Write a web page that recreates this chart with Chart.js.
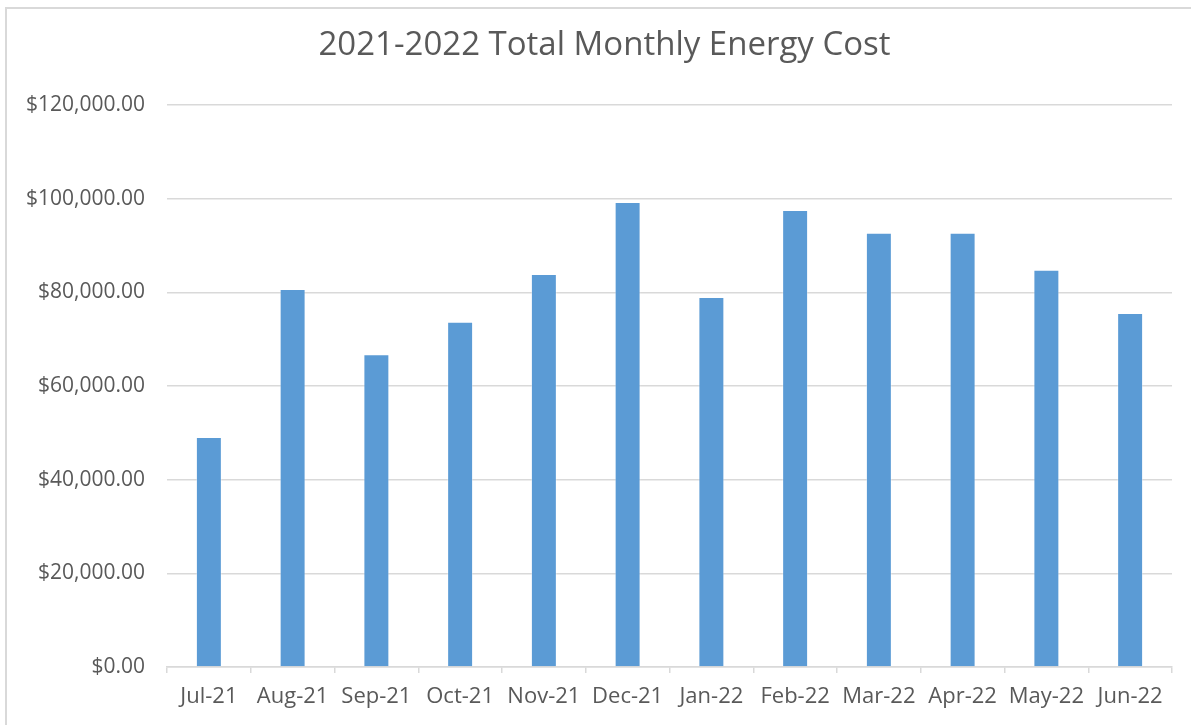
<!DOCTYPE html>
<html>
<head>
<meta charset="utf-8">
<script src="https://cdn.jsdelivr.net/npm/chart.js@4/dist/chart.umd.min.js"></script>
<style>
  html, body { margin: 0; padding: 0; background: #ffffff; }
  #wrap { position: relative; width: 1191px; height: 725px; overflow: hidden; }
  #frame { position: absolute; left: 5px; top: 7px; width: 1200px; height: 730px;
           border-left: 2px solid #d9d9d9; border-top: 2px solid #d9d9d9; box-sizing: border-box; }
  canvas { position: absolute; left: 0; top: 0; }
</style>
</head>
<body>
<div id="wrap">
  <div id="frame"></div>
  <canvas id="c" width="1191" height="725"></canvas>
</div>
<script>
const categories = ['Jul-21','Aug-21','Sep-21','Oct-21','Nov-21','Dec-21','Jan-22','Feb-22','Mar-22','Apr-22','May-22','Jun-22'];
const monthlyCost = [49100, 80700, 66800, 73700, 83900, 99300, 79000, 97600, 92700, 92700, 84800, 75600];
const yTicks = [0, 20000, 40000, 60000, 80000, 100000, 120000];
const chartTitle = '2021-2022 Total Monthly Energy Cost';

const FONT = '"Open Sans", "Liberation Sans", sans-serif';
const TEXT = '#595959';
const GRID = '#d9d9d9';

function money(v) {
  return '$' + Number(v).toLocaleString('en-US', { minimumFractionDigits: 2, maximumFractionDigits: 2 });
}

// centre the title on the outer frame rather than on the plot box
const titleShift = {
  id: 'titleShift',
  afterLayout(chart) {
    if (chart.titleBlock) {
      chart.titleBlock.left = 18;
      chart.titleBlock.right = 1191;
    }
  }
};

new Chart(document.getElementById('c'), {
  type: 'bar',
  data: {
    labels: categories,
    datasets: [{
      label: 'Total Monthly Energy Cost',
      data: monthlyCost,
      backgroundColor: '#5B9BD5',
      borderColor: 'rgba(255,255,255,0.35)',
      borderWidth: 1,
      barPercentage: 0.31,
      categoryPercentage: 1.0
    }]
  },
  plugins: [titleShift],
  options: {
    responsive: false,
    animation: false,
    devicePixelRatio: 1,
    layout: { padding: { left: 0, right: 19, top: 0, bottom: 0 } },
    plugins: {
      legend: { display: false },
      tooltip: { enabled: false },
      title: {
        display: true,
        text: chartTitle,
        color: TEXT,
        font: { family: FONT, size: 33, weight: 'normal' },
        padding: { top: 26, bottom: 39.4 }
      }
    },
    scales: {
      x: {
        offset: true,
        grid: {
          offset: true,
          drawOnChartArea: false,
          drawTicks: true,
          tickLength: 6,
          color: GRID,
          lineWidth: 1.5
        },
        border: { display: true, color: GRID, width: 1.5 },
        ticks: {
          color: TEXT,
          font: { family: FONT, size: 22 },
          padding: 11,
          maxRotation: 0,
          autoSkip: false
        },
        afterFit(scale) { scale.height = 58; }
      },
      y: {
        min: 0,
        max: 120000,
        afterBuildTicks(scale) { scale.ticks = yTicks.map(v => ({ value: v })); },
        grid: { drawTicks: false, color: GRID, lineWidth: 1.5 },
        border: { display: false },
        ticks: {
          color: TEXT,
          font: { family: FONT, size: 21 },
          padding: 22,
          callback: (v) => money(v)
        },
        afterFit(scale) { scale.width = 167; }
      }
    }
  }
});
</script>
</body>
</html>
